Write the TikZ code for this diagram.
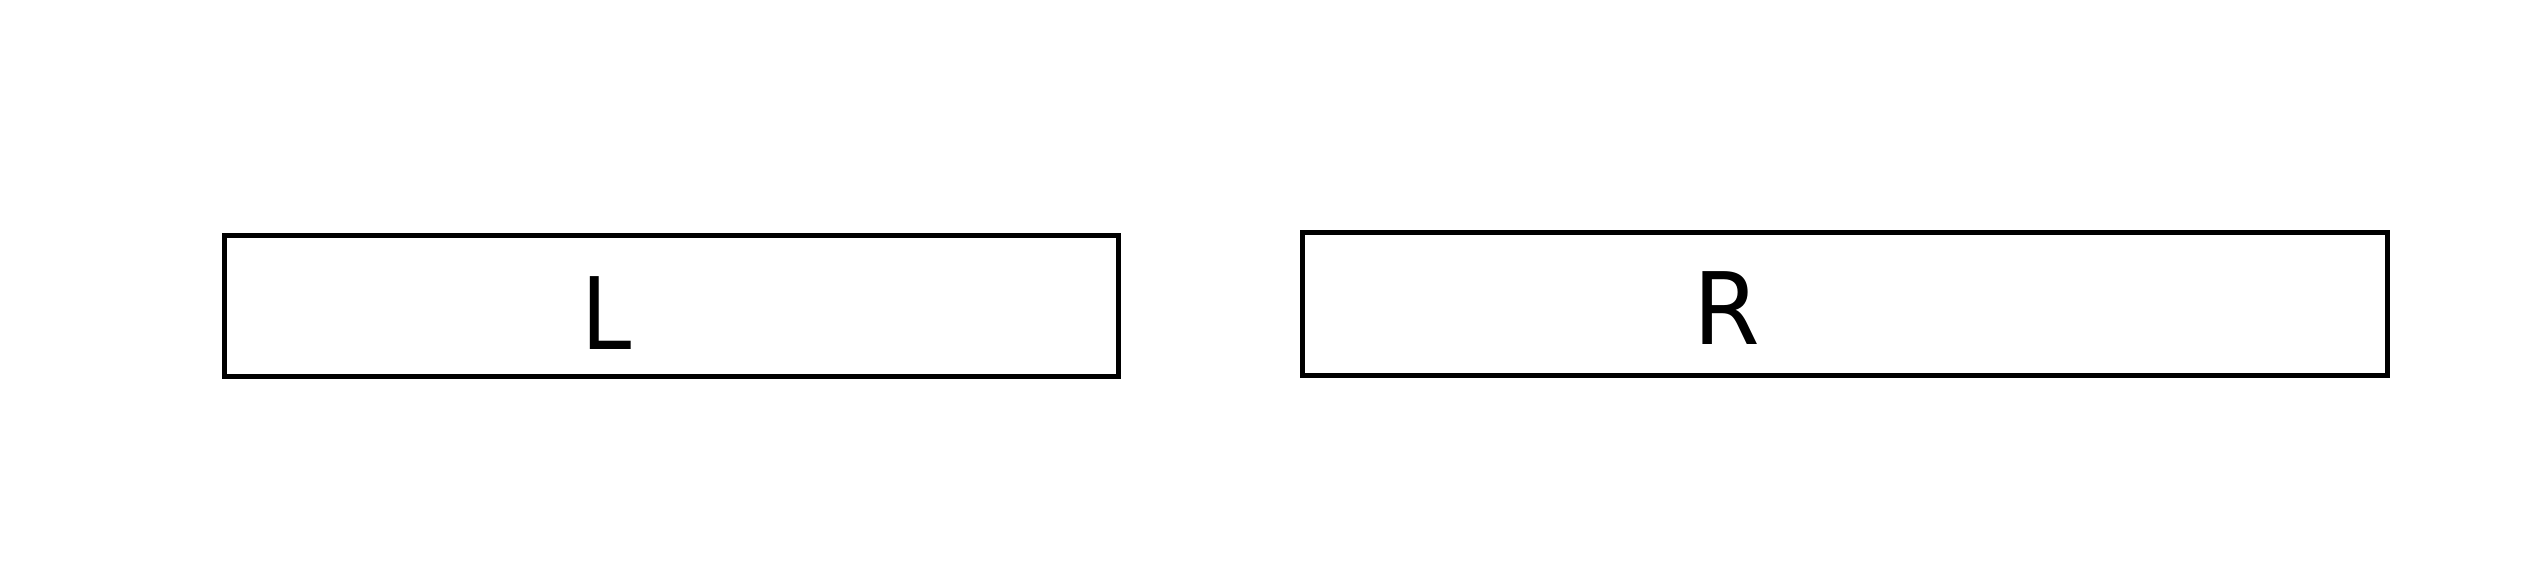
\documentclass[tikz,border=0pt]{standalone}
\usepackage{fontspec}
\usepackage{graphicx}
\setmainfont{DejaVu Sans}
\begin{document}
\begin{tikzpicture}[x=1pt,y=-1pt,
  box/.style={draw=black,line width=5pt,rectangle,inner sep=0pt,outer sep=0pt},
  lbl/.style={anchor=base west,inner sep=0pt,outer sep=0pt,font=\fontsize{100pt}{120pt}\selectfont}]
\useasboundingbox[fill=white] (0,0) rectangle (2526,586);
\node[box,minimum width=894pt,minimum height=140.8pt] (lbox) at (671.4,305.9) {};
\node[box,minimum width=1084.8pt,minimum height=142.7pt] (rbox) at (1845.1,303.85) {};
\node[lbl] (ltext) at (581.6,349.3) {\scalebox{0.9}[1]{L}};
\node[lbl] (rtext) at (1693.5,344.3) {\scalebox{0.96}[1]{R}};
\end{tikzpicture}
\end{document}
